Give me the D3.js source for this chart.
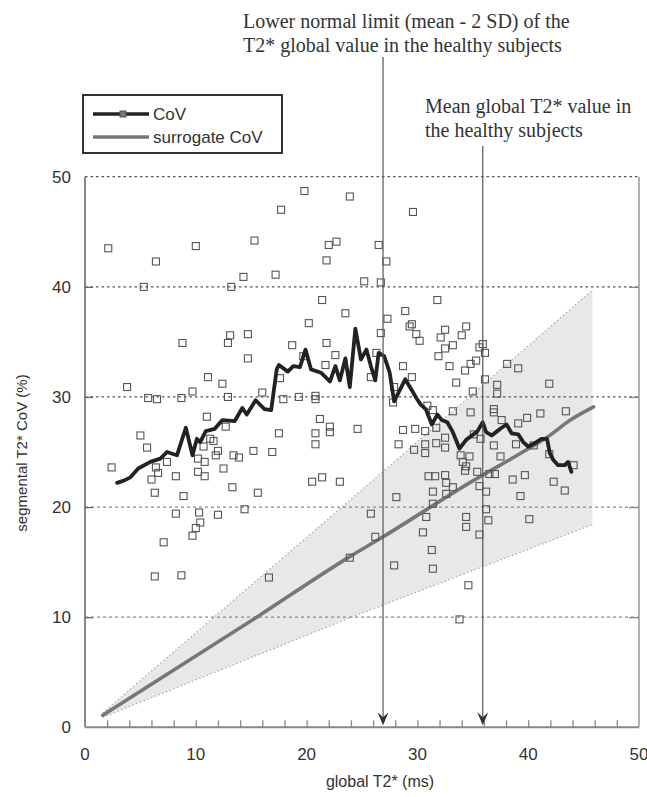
<!DOCTYPE html>
<html>
<head>
<meta charset="utf-8">
<script src="https://cdn.jsdelivr.net/npm/d3@7"></script>
<style>
  html, body { margin: 0; padding: 0; background: #fff; }
  svg { display: block; }
</style>
</head>
<body>
<svg id="chart" width="647" height="797"></svg>
<script>
// ---- data -------------------------------------------------------------
// individual patients: global T2* (ms) and segmental T2* CoV (%)
const patients = [
  [2.1,43.5],[6.4,42.3],[10.0,43.7],[5.3,40.0],[13.2,40.0],[14.3,40.9],[15.3,44.2],[17.2,41.1],
  [17.7,47.0],[19.8,48.7],[23.9,48.2],[22.0,43.8],[22.7,44.1],[21.8,42.4],[21.4,38.8],[23.5,37.6],
  [20.2,36.7],[18.7,34.7],[21.8,34.9],[22.6,33.8],[21.7,32.9],[19.7,33.7],[14.7,35.7],[13.1,35.6],
  [12.9,34.9],[14.7,33.5],[8.8,34.9],[17.6,31.7],[11.1,31.8],[12.4,31.2],[3.8,30.9],[9.7,30.5],
  [16.0,30.4],[5.7,29.9],[6.5,29.8],[8.7,29.9],[12.9,30.0],[17.9,29.8],[19.3,30.0],[20.8,30.1],
  [20.8,29.8],[11.0,28.2],[12.7,27.3],[5.0,26.5],[5.6,25.4],[17.5,26.7],[21.2,28.0],[22.1,27.3],
  [22.1,26.8],[20.8,26.7],[20.8,25.7],[24.6,27.1],[11.3,26.2],[11.6,26.0],[10.7,25.5],[12.0,25.1],
  [13.4,24.7],[13.9,24.5],[15.2,25.1],[16.9,25.0],[11.8,24.7],[2.4,23.6],[6.4,23.6],[6.6,23.1],
  [6.0,22.5],[7.4,24.1],[8.2,22.8],[10.2,24.4],[10.8,24.1],[10.2,23.2],[10.8,22.8],[12.5,23.5],
  [6.3,21.3],[8.9,21.0],[13.3,21.8],[15.6,21.3],[8.2,19.4],[10.3,19.5],[12.0,19.3],[14.4,19.8],
  [10.4,18.6],[10.0,18.1],[9.7,17.4],[7.1,16.8],[6.3,13.7],[8.7,13.8],[16.6,13.6],[20.5,22.3],
  [21.4,22.7],[23.0,22.3],[23.9,15.4],
  [29.6,46.8],[26.5,43.8],[27.2,42.3],[25.2,40.5],[26.7,40.4],[31.8,38.8],[28.9,37.8],[27.3,37.1],
  [29.5,36.6],[29.3,36.4],[29.9,35.7],[30.2,35.1],[32.5,36.1],[32.1,35.4],[34.0,35.6],[34.4,36.4],
  [33.2,34.7],[32.5,34.4],[31.9,33.7],[32.9,32.8],[26.7,35.8],[26.3,34.0],[28.7,32.8],[34.3,32.4],
  [35.9,34.8],[35.6,34.5],[36.1,34.0],[35.3,33.3],[34.8,33.0],[33.5,31.3],[35.0,30.5],[36.1,31.6],
  [37.2,31.1],[37.2,30.3],[38.1,33.0],[39.1,32.6],[41.9,31.2],[25.8,31.8],[29.5,31.8],[27.9,30.9],
  [27.8,29.5],[30.9,29.2],[31.4,28.8],[33.2,28.7],[34.8,28.6],[36.9,28.9],[36.9,28.6],[37.6,27.9],
  [39.1,27.6],[39.9,28.1],[41.1,28.5],[43.4,28.7],[28.7,27.0],[29.8,27.1],[30.7,26.9],[31.7,27.2],
  [32.5,26.3],[28.3,25.7],[29.7,25.2],[30.7,25.7],[30.7,24.9],[31.7,25.8],[32.5,25.4],[35.1,26.6],
  [35.7,26.2],[36.9,25.6],[38.9,25.7],[37.5,24.6],[34.7,24.6],[41.9,24.8],[40.5,25.6],[44.1,23.8],
  [34.4,23.7],[34.3,23.3],[35.4,23.2],[37.0,23.0],[36.5,23.0],[38.6,22.5],[39.7,22.9],[42.3,22.3],
  [43.3,21.5],[39.3,21.0],[36.2,21.4],[35.6,21.9],[36.2,19.8],[34.4,19.1],[40.1,18.9],[28.1,20.9],
  [25.8,19.4],[26.2,17.3],[27.9,14.7],[31.4,14.4],[31.3,16.1],[30.5,17.7],[30.8,19.1],[31.4,20.3],
  [31.4,21.4],[31.0,22.8],[31.6,22.8],[32.5,22.9],[32.6,22.2],[33.2,21.8],[32.6,21.2],[34.6,12.9],
  [33.8,9.8],[34.4,18.2],[35.6,17.5],[36.4,18.8],[33.9,24.7],[34.1,24.1]
];

// running CoV curve
const covX = [2.9,3.5,4.1,4.8,5.9,6.8,7.4,8.3,9.1,9.7,10.1,10.4,10.9,11.7,12.4,13.5,14.2,14.6,15.4,16.2,
  16.8,17.3,17.5,18.3,18.8,19.4,19.9,20.4,21.3,22.1,22.6,23.0,23.5,23.9,24.4,24.9,25.4,25.8,26.2,26.5,
  27.0,27.5,27.9,28.4,28.9,29.5,29.9,30.3,30.75,31.3,31.8,32.2,32.7,33.2,33.8,34.4,34.8,35.4,35.9,36.2,
  36.7,37.15,37.6,38.05,38.5,39.1,39.55,40.0,40.6,41.2,41.7,41.95,42.25,42.7,43.3,43.6,43.9];
const covY = [22.2,22.4,22.7,23.5,24.1,24.4,25.0,24.7,27.2,24.7,26.2,25.9,26.9,27.1,27.9,27.8,29.0,28.4,29.7,28.9,
  28.8,32.5,32.9,32.3,32.8,32.7,34.3,32.5,32.2,31.4,32.8,31.5,33.5,30.9,36.2,33.4,34.3,32.8,31.5,34.0,
  33.7,32.2,29.6,30.6,31.6,30.6,29.9,29.3,28.9,27.5,28.4,27.9,27.7,26.8,25.3,26.1,26.4,26.85,27.7,26.8,
  26.5,26.85,27.2,27.5,26.7,26.6,25.9,25.5,25.8,26.2,26.2,24.9,24.3,23.8,23.8,24.1,23.2];

// surrogate CoV curve
const surrX = [1.6,15.5,23.9,26.9,34.7,39.85,41.8,43.8,45.9];
const surrY = [1.1,10.0,15.5,17.3,22.2,25.2,26.4,27.9,29.1];

// shaded range around the surrogate CoV
const bandX = [1.6,24.8,45.8];
const bandUpper = [1.3,21.4,39.7];
const bandLower = [0.9,10.3,18.4];

// reference values of healthy subjects (ms)
const lowerNormalLimit = 26.9;
const healthyMean = 35.9;

const xTickValues = [0,10,20,30,40,50];
const yTickValues = [0,10,20,30,40,50];
const yGridValues = [10,20,30,40,50];

// ---- layout -----------------------------------------------------------
const svg = d3.select("#chart");
const x = d3.scaleLinear().domain([0,50]).range([85,639]);
const y = d3.scaleLinear().domain([0,50]).range([727.3,176.7]);
const sans = "'Liberation Sans', Arial, sans-serif";
const serif = "'Liberation Serif', 'Times New Roman', serif";

// shaded band
const bandPts = bandX.map((v,i)=>[v,bandUpper[i]]).concat(bandX.map((v,i)=>[v,bandLower[i]]).reverse());
svg.append("path")
  .attr("d", d3.line().x(d=>x(d[0])).y(d=>y(d[1]))(bandPts) + "Z")
  .attr("fill", "#e8e8e8").attr("stroke", "none");
[bandUpper, bandLower].forEach(edge => {
  svg.append("path")
    .attr("d", d3.line().x((d,i)=>x(bandX[i])).y(d=>y(d))(edge))
    .attr("fill","none").attr("stroke","#aaa").attr("stroke-width",1.2)
    .attr("stroke-dasharray","1.5,2.5");
});

// horizontal grid (lower lines are printed fainter)
svg.append("g").selectAll("line").data(yGridValues).join("line")
  .attr("x1", x(0)).attr("x2", x(50))
  .attr("y1", d=>y(d)).attr("y2", d=>y(d))
  .attr("stroke", d=>d >= 30 ? "#555" : "#888").attr("stroke-width", 1.2)
  .attr("stroke-dasharray", d=>d >= 30 ? "2.5,3" : "3,3");

// frame: left, bottom, right
svg.append("line").attr("x1",x(0)).attr("x2",x(0)).attr("y1",y(50)).attr("y2",y(0))
  .attr("stroke","#888").attr("stroke-width",2);
svg.append("line").attr("x1",x(0)).attr("x2",x(50)).attr("y1",y(0)).attr("y2",y(0))
  .attr("stroke","#888").attr("stroke-width",2);
svg.append("line").attr("x1",x(50)).attr("x2",x(50)).attr("y1",y(50)).attr("y2",y(0))
  .attr("stroke","#999").attr("stroke-width",1.5);

// axes with inward ticks
const xAxis = d3.axisBottom(x).tickValues(d3.range(2,50,2)).tickSize(-7).tickFormat("");
svg.append("g").attr("transform",`translate(0,${y(0)})`).call(xAxis)
  .call(g=>g.select(".domain").remove())
  .call(g=>g.selectAll("line").attr("stroke","#888").attr("stroke-width",1.3));
const yAxisL = d3.axisLeft(y).tickValues([10,20,30,40]).tickSize(-8).tickFormat("");
svg.append("g").attr("transform",`translate(${x(0)},0)`).call(yAxisL)
  .call(g=>g.select(".domain").remove())
  .call(g=>g.selectAll("line").attr("stroke","#666").attr("stroke-width",1.3));
const yAxisR = d3.axisRight(y).tickValues([10,20,30,40]).tickSize(-10).tickFormat("");
svg.append("g").attr("transform",`translate(${x(50)},0)`).call(yAxisR)
  .call(g=>g.select(".domain").remove())
  .call(g=>g.selectAll("line").attr("stroke","#888").attr("stroke-width",1.3));

// tick labels
svg.append("g").selectAll("text").data(xTickValues).join("text")
  .attr("x", d=>x(d)).attr("y", 760)
  .attr("text-anchor","middle").attr("font-family",sans).attr("font-size",17).attr("fill","#333")
  .text(d=>d);
svg.append("g").selectAll("text").data(yTickValues).join("text")
  .attr("x", 71).attr("y", d=>y(d)+6)
  .attr("text-anchor","end").attr("font-family",sans).attr("font-size",17).attr("fill","#333")
  .text(d=>d);

// axis titles
svg.append("text").attr("x",380).attr("y",787).attr("text-anchor","middle")
  .attr("font-family",sans).attr("font-size",16).attr("fill","#333").text("global T2* (ms)");
svg.append("text").attr("transform","translate(27,453) rotate(-90)").attr("text-anchor","middle")
  .attr("font-family",sans).attr("font-size",15).attr("fill","#333").text("segmental T2* CoV (%)");

// surrogate CoV line
svg.append("path")
  .attr("d", d3.line().curve(d3.curveMonotoneX).x(d=>x(d)).y((d,i)=>y(surrY[i]))(surrX))
  .attr("fill","none").attr("stroke","#777").attr("stroke-width",3.6)
  .attr("stroke-linecap","round").attr("stroke-linejoin","round");

// patients
svg.append("g").selectAll("rect").data(patients).join("rect")
  .attr("x", d=>x(d[0])-3.5).attr("y", d=>y(d[1])-3.5)
  .attr("width",7).attr("height",7)
  .attr("fill","none").attr("stroke","#555").attr("stroke-width",1.1);

// CoV curve
svg.append("path")
  .attr("d", d3.line().x(d=>x(d)).y((d,i)=>y(covY[i]))(covX))
  .attr("fill","none").attr("stroke","#222").attr("stroke-width",3.8)
  .attr("stroke-linejoin","round").attr("stroke-linecap","round");

// reference arrows
function refArrow(value, yTop) {
  const px = x(value);
  svg.append("line").attr("x1",px).attr("x2",px).attr("y1",yTop).attr("y2",y(0)-6)
    .attr("stroke","#555").attr("stroke-width",1.2);
  const tip = y(0) - 2;
  svg.append("path")
    .attr("d",`M${px},${tip} L${px-5.5},${tip-13} L${px},${tip-8} L${px+5.5},${tip-13} Z`)
    .attr("fill","#333");
}
refArrow(lowerNormalLimit, 57);
refArrow(healthyMean, 146);

// annotations
const annot = svg.append("g").attr("font-family",serif).attr("font-size",20).attr("fill","#333");
annot.append("text").attr("x",243).attr("y",28).text("Lower normal limit (mean - 2 SD) of the");
annot.append("text").attr("x",243).attr("y",52).text("T2* global value in the healthy subjects");
annot.append("text").attr("x",425).attr("y",113).text("Mean global T2* value in");
annot.append("text").attr("x",425).attr("y",137).text("the healthy subjects");

// legend
const lg = svg.append("g");
lg.append("rect").attr("x",83).attr("y",95).attr("width",199).attr("height",58)
  .attr("fill","#fff").attr("stroke","#333").attr("stroke-width",2);
lg.append("line").attr("x1",93).attr("x2",149).attr("y1",114).attr("y2",114)
  .attr("stroke","#222").attr("stroke-width",3.6);
lg.append("rect").attr("x",120).attr("y",111).attr("width",6).attr("height",6)
  .attr("fill","#777").attr("stroke","#555").attr("stroke-width",1);
lg.append("line").attr("x1",93).attr("x2",149).attr("y1",137).attr("y2",137)
  .attr("stroke","#777").attr("stroke-width",3.6);
lg.append("text").attr("x",153).attr("y",120).attr("font-family",sans).attr("font-size",17)
  .attr("fill","#333").text("CoV");
lg.append("text").attr("x",153).attr("y",143).attr("font-family",sans).attr("font-size",17)
  .attr("fill","#333").text("surrogate CoV");
</script>
</body>
</html>
